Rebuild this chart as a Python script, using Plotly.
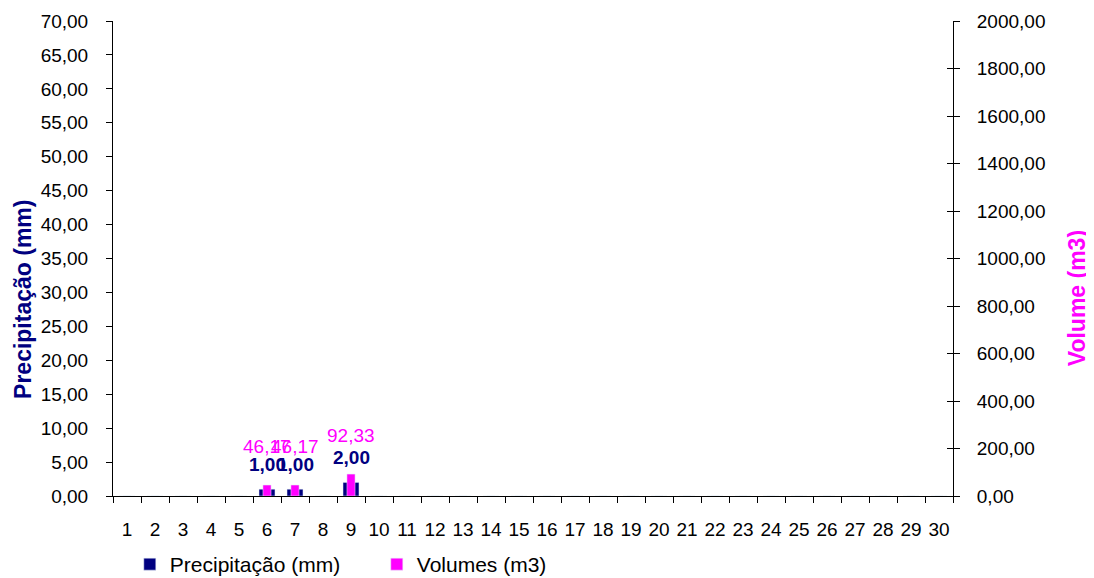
import plotly.graph_objects as go

days = [str(d) for d in range(1, 31)]
precip = [0, 0, 0, 0, 0, 1.00, 1.00, 0, 2.00] + [0] * 21
volumes = [0, 0, 0, 0, 0, 46.17, 46.17, 0, 92.33] + [0] * 21

left_ticks = [i * 5 for i in range(15)]
right_ticks = [i * 200 for i in range(11)]

NAVY = "#000080"
MAG = "#FF00FF"
FONT = "Liberation Sans, Arial, sans-serif"

fig = go.Figure()
fig.add_trace(go.Bar(x=days, y=precip, name="Precipitação (mm)", marker_color=NAVY,
                     width=0.57, yaxis="y"))
fig.add_trace(go.Bar(x=days, y=volumes, name="Volumes (m3)", marker_color=MAG,
                     width=0.29, yaxis="y2"))
# invisible helper trace for inner ticks on the right axis
fig.add_trace(go.Scatter(x=[days[0]], y=[None], yaxis="y3", showlegend=False, hoverinfo="skip"))

def fmt(v):
    return f"{v:.2f}".replace(".", ",")

for i, v in enumerate(precip):
    if v:
        fig.add_annotation(x=i, y=v, yref="y", text=f"<b>{fmt(v)}</b>", showarrow=False,
                           yshift=25, font=dict(color=NAVY, size=19, family=FONT))
for i, v in enumerate(volumes):
    if v:
        fig.add_annotation(x=i, y=v, yref="y2", text=fmt(v), showarrow=False,
                           yshift=39, font=dict(color=MAG, size=19, family=FONT))

fig.add_annotation(xref="paper", yref="paper", x=-0.107, y=0.413, xanchor="center", yanchor="middle",
                   text="<b>Precipitação (mm)</b>", textangle=-90, showarrow=False,
                   font=dict(color=NAVY, size=23, family=FONT))
fig.add_annotation(xref="paper", yref="paper", x=1.148, y=0.417, xanchor="center", yanchor="middle",
                   text="<b>Volume (m3)</b>", textangle=-90, showarrow=False,
                   font=dict(color=MAG, size=23, family=FONT))

fig.update_layout(
    width=1086, height=570,
    margin=dict(l=105, r=141, t=13, b=82, autoexpand=False),
    paper_bgcolor="white", plot_bgcolor="white",
    separators=",.",
    barmode="overlay",
    font=dict(family=FONT, size=19, color="black"),
    showlegend=True,
    legend=dict(orientation="h", x=0.02, y=-0.101, xanchor="left", yanchor="top",
                font=dict(size=21, family=FONT), entrywidth=202, entrywidthmode="pixels"),
    xaxis=dict(type="category", range=[-0.5, 29.5], showline=True, linecolor="black", linewidth=1,
               ticks="outside", ticklen=6, tickcolor="black", tickson="boundaries",
               showgrid=False, ticklabelstandoff=16, tickfont=dict(size=19), tickangle=0,
               automargin=False),
    yaxis=dict(range=[0, 70], tickvals=left_ticks, tickformat=".2f", showline=True,
               linecolor="black", linewidth=1, ticks="outside", ticklen=6, tickcolor="black",
               showgrid=False, zeroline=False, tickfont=dict(size=19), ticklabelstandoff=14,
               automargin=False),
    yaxis2=dict(range=[0, 2000], tickvals=right_ticks, tickformat=".2f", overlaying="y",
                side="right", showline=True, linecolor="black", linewidth=1, ticks="outside",
                ticklen=6, tickcolor="black", showgrid=False, zeroline=False,
                tickfont=dict(size=19), ticklabelstandoff=13, automargin=False),
    yaxis3=dict(range=[0, 2000], tickvals=right_ticks, overlaying="y", side="right",
                showline=False, ticks="inside", ticklen=6, tickcolor="black",
                showticklabels=False, showgrid=False, zeroline=False, automargin=False),
)

fig.write_html("out.html")
